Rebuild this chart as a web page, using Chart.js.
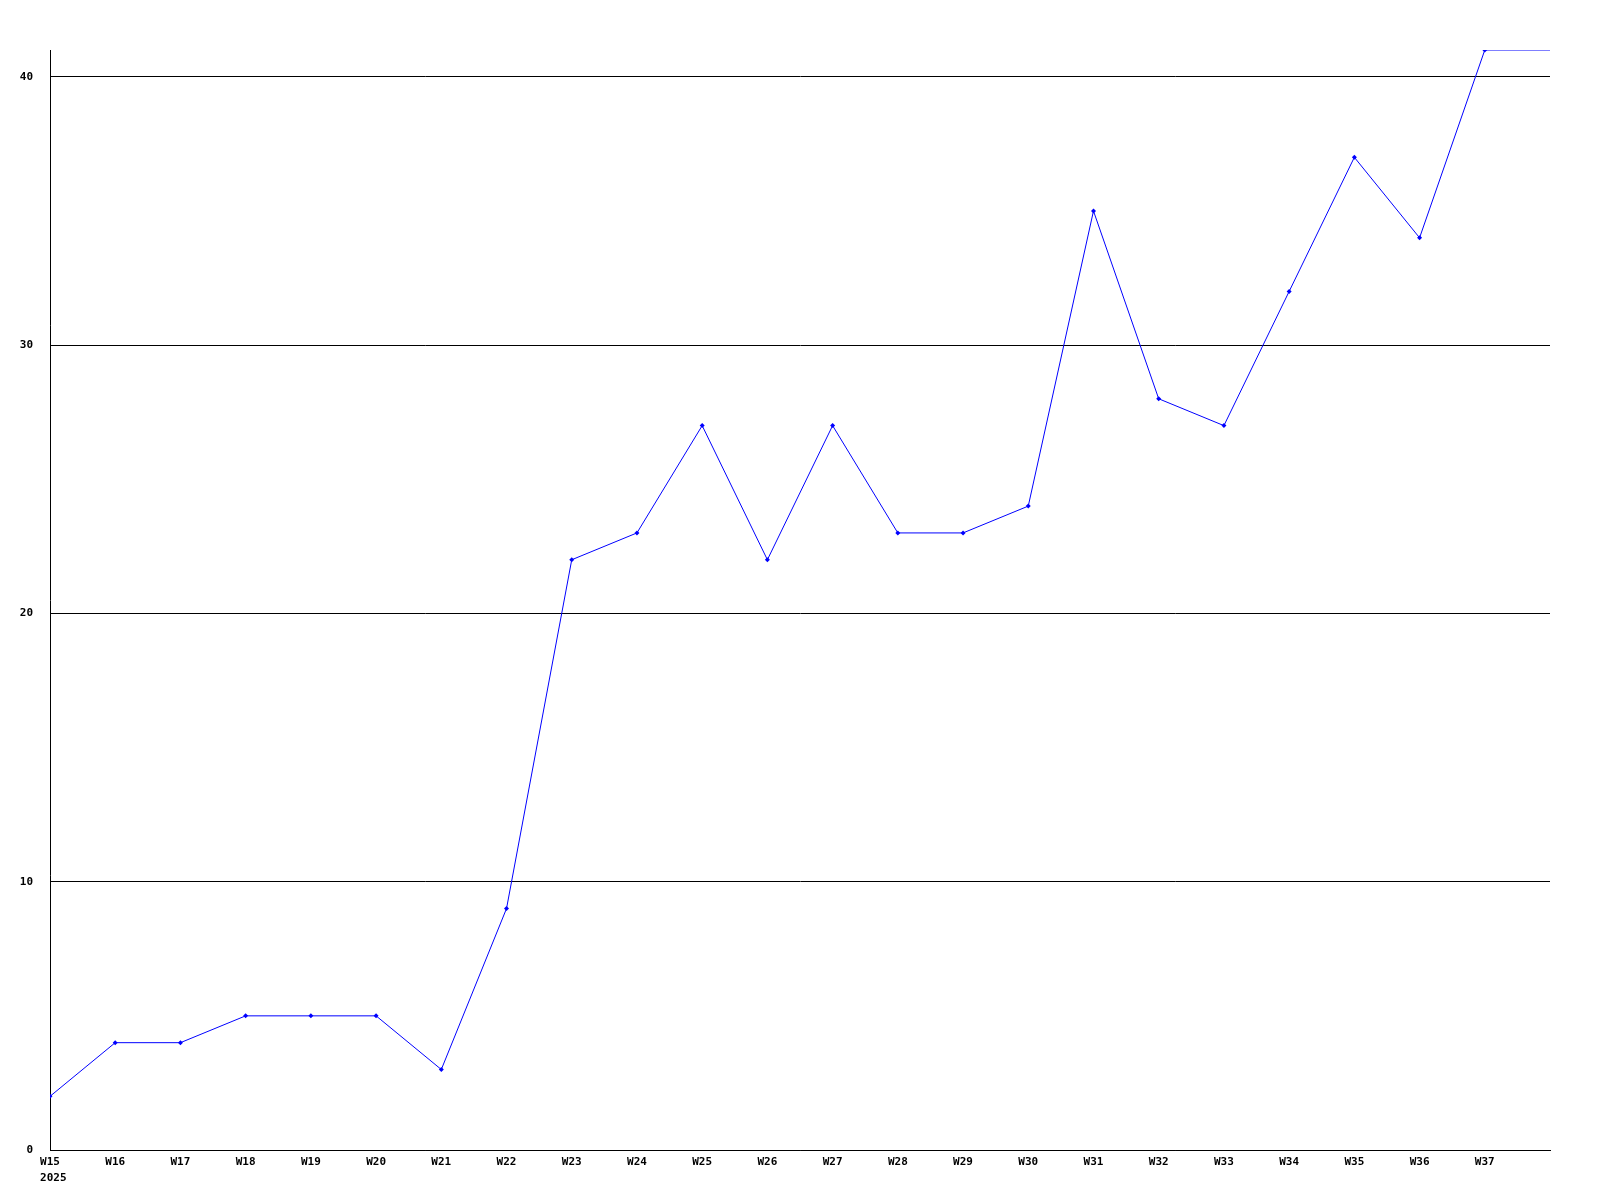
<!DOCTYPE html>
<html>
<head>
<meta charset="utf-8">
<script src="https://cdn.jsdelivr.net/npm/chart.js@4/dist/chart.umd.min.js"></script>
<style>
html,body{margin:0;padding:0;background:#fff;}
canvas{display:block;}
</style>
</head>
<body>
<canvas id="c" width="1600" height="1200"></canvas>
<script>
const weeks = ['W15','W16','W17','W18','W19','W20','W21','W22','W23','W24','W25','W26','W27','W28','W29','W30','W31','W32','W33','W34','W35','W36','W37'];
const yearLabel = '2025';
const values = [2,4,4,5,5,5,3,9,22,23,27,22,27,23,23,24,35,28,27,32,37,34,41];
const yTicks = [0,10,20,30,40];

const pts = values.map((v,i)=>({x:i,y:v}));
// line continues flat to right edge of plot at last value
pts.push({x:weeks.length, y:values[values.length-1]});

const font = {family:'"DejaVu Sans Mono", monospace', size:11, weight:'bold'};
const fontStr = 'bold 11px "DejaVu Sans Mono", monospace';

const yearPlugin = {
  id:'yearLabel',
  afterDraw(chart){
    const xs = chart.scales.x;
    const ctx = chart.ctx;
    ctx.save();
    ctx.font = fontStr;
    ctx.fillStyle = '#000';
    const w = ctx.measureText(weeks[0]).width;
    const x0 = xs.getPixelForValue(0) - w/2;
    ctx.textAlign = 'left';
    ctx.textBaseline = 'top';
    ctx.fillText(yearLabel, x0, xs.top + 23);
    ctx.restore();
  }
};

new Chart(document.getElementById('c'), {
  type:'line',
  data:{datasets:[{
    data:pts,
    borderColor:'#0000ff',
    backgroundColor:'#0000ff',
    borderWidth:1,
    pointStyle:'rectRot',
    pointRadius:(ctx)=> ctx.dataIndex < values.length ? 2.5 : 0,
    pointBorderWidth:0,
    tension:0,
    fill:false
  }]},
  options:{
    responsive:false,
    animation:false,
    layout:{padding:{top:50,right:50,left:0,bottom:0}},
    plugins:{legend:{display:false},tooltip:{enabled:false}},
    scales:{
      x:{
        type:'linear',
        min:0,
        max:weeks.length,
        afterBuildTicks:(s)=>{ s.ticks = weeks.map((w,i)=>({value:i})); },
        afterFit:(s)=>{ s.height = 50; },
        ticks:{
          autoSkip:false,
          maxRotation:0,
          padding:6,
          color:'#000',
          font:font,
          callback:(v)=> weeks[v]||''
        },
        grid:{display:false, drawTicks:false},
        border:{display:true,color:'#000',width:1}
      },
      y:{
        min:0,
        max:41,
        afterBuildTicks:(s)=>{ s.ticks = yTicks.map(v=>({value:v})); },
        afterFit:(s)=>{ s.width = 50; },
        ticks:{
          padding:17,
          color:'#000',
          font:font
        },
        grid:{color:'#000', lineWidth:1, drawTicks:false},
        border:{display:true,color:'#000',width:1}
      }
    }
  },
  plugins:[yearPlugin]
});
</script>
</body>
</html>
